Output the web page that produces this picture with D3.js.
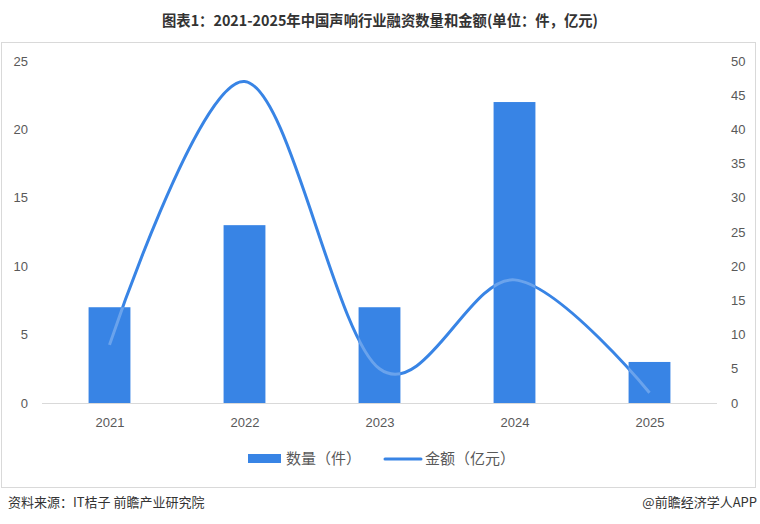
<!DOCTYPE html>
<html><head><meta charset="utf-8">
<script src="https://cdn.jsdelivr.net/npm/d3@7/dist/d3.min.js"></script>
<style>
body{margin:0;background:#fff;}
svg{display:block;font-family:"Noto Sans","Noto Sans CJK SC",sans-serif;}
</style></head>
<body><svg id="c" width="760" height="524"></svg>
<script>
const years = ["2021","2022","2023","2024","2025"];
const counts = [7, 13, 7, 22, 3];
const amounts = [8.5, 47, 5, 18, 1.5];
const leftTicks = [0,5,10,15,20,25];
const rightTicks = [0,5,10,15,20,25,30,35,40,45,50];
const titleText = "图表1：2021-2025年中国声响行业融资数量和金额(单位：件，亿元)";
const legendLabels = ["数量（件）","金额（亿元）"];
const sourceText = "资料来源：IT桔子 前瞻产业研究院";
const brandText = "@前瞻经济学人APP";

const svg = d3.select("#c");
const blue = "#3884E5";
const plot = {left:42, right:717, top:61, bottom:403};

svg.append("text").attr("x",380).attr("y",26).attr("text-anchor","middle")
  .attr("font-family","'Noto Sans CJK SC',sans-serif").attr("font-weight","bold")
  .attr("font-size",15).attr("fill","#333").attr("textLength",436).attr("lengthAdjust","spacingAndGlyphs")
  .text(titleText);

svg.append("rect").attr("x",1.5).attr("y",42.5).attr("width",754).attr("height",445)
  .attr("fill","none").attr("stroke","#d9d9d9");

const x = d3.scaleBand().domain(years).range([plot.left,plot.right]).paddingInner(0.69).paddingOuter(0.345);
const xc = d3.scalePoint().domain(years).range([plot.left,plot.right]).padding(0.5);
const yL = d3.scaleLinear().domain([0,25]).range([plot.bottom,plot.top]);
const yR = d3.scaleLinear().domain([0,50]).range([plot.bottom,plot.top]);

// left axis
const gl = svg.append("g").attr("transform",`translate(28,0)`)
  .call(d3.axisLeft(yL).tickValues(leftTicks).tickSize(0).tickPadding(0));
gl.select(".domain").remove();
gl.selectAll("text").attr("font-size",13).attr("fill","#595959");

const gr = svg.append("g").attr("transform",`translate(731,0)`)
  .call(d3.axisRight(yR).tickValues(rightTicks).tickSize(0).tickPadding(0));
gr.select(".domain").remove();
gr.selectAll("text").attr("font-size",13).attr("fill","#595959");

const gx = svg.append("g").attr("transform",`translate(0,${plot.bottom})`)
  .call(d3.axisBottom(xc).tickSize(0).tickPadding(15));
gx.select(".domain").attr("stroke","#d9d9d9");
gx.select(".domain").attr("d",`M${plot.left},0.5H${plot.right}`);
gx.selectAll("text").attr("font-size",13).attr("fill","#595959");

const line = d3.line().x((d,i)=>xc(years[i])).y(d=>yR(d)).curve(d3.curveCardinal.tension(0));

svg.append("path").datum(amounts).attr("d",line).attr("fill","none")
  .attr("stroke",blue).attr("stroke-width",3).attr("stroke-linecap","round");

const defs = svg.append("defs");
const cp = defs.append("clipPath").attr("id","barclip");
cp.selectAll("rect").data(counts).join("rect")
  .attr("x",(d,i)=>x(years[i])).attr("y",d=>yL(d))
  .attr("width",x.bandwidth()).attr("height",d=>yL(0)-yL(d));

svg.append("g").selectAll("rect").data(counts).join("rect")
  .attr("x",(d,i)=>x(years[i])).attr("y",d=>yL(d))
  .attr("width",x.bandwidth()).attr("height",d=>yL(0)-yL(d)).attr("fill",blue);

svg.append("path").datum(amounts).attr("d",line).attr("fill","none")
  .attr("clip-path","url(#barclip)")
  .attr("stroke","#6aa3ec").attr("stroke-width",3);

// legend
const lg = svg.append("g");
lg.append("rect").attr("x",248).attr("y",454).attr("width",33).attr("height",9).attr("fill",blue);
lg.append("text").attr("x",286).attr("y",464).attr("font-size",15).attr("fill","#595959")
  .attr("font-family","'Noto Sans CJK SC',sans-serif").text(legendLabels[0]);
lg.append("line").attr("x1",385).attr("x2",421).attr("y1",459).attr("y2",459)
  .attr("stroke",blue).attr("stroke-width",3).attr("stroke-linecap","round");
lg.append("text").attr("x",425).attr("y",464).attr("font-size",15).attr("fill","#595959")
  .attr("font-family","'Noto Sans CJK SC',sans-serif").text(legendLabels[1]);

// footer
svg.append("text").attr("x",8).attr("y",507).attr("font-size",13).attr("fill","#333")
  .attr("font-family","'Noto Sans CJK SC',sans-serif").text(sourceText);
svg.append("text").attr("x",757).attr("y",507).attr("text-anchor","end").attr("font-size",13).attr("fill","#333")
  .attr("font-family","'Noto Sans CJK SC',sans-serif").text(brandText);
</script></body></html>
